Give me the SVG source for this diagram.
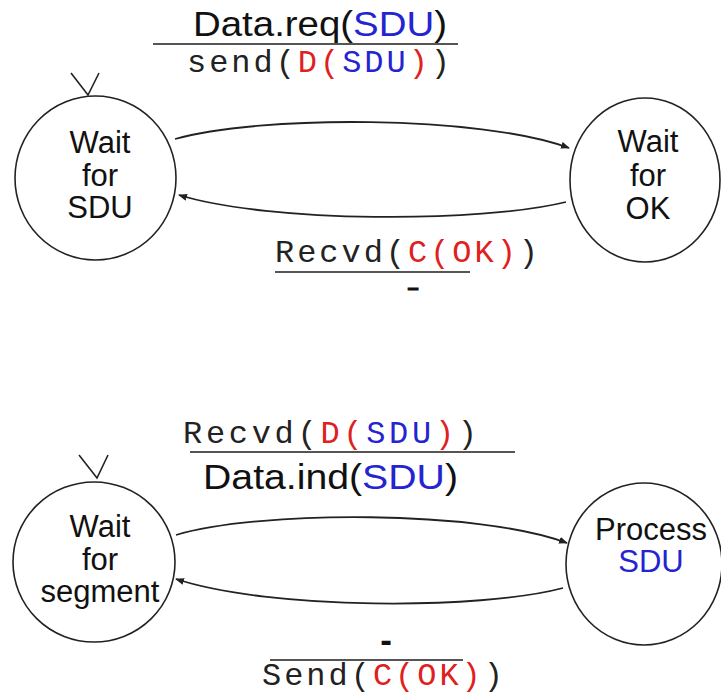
<svg xmlns="http://www.w3.org/2000/svg" width="721" height="695" viewBox="0 0 721 695">
<style>
.st{fill:none;stroke:#222;stroke-width:1.6}
.lbl{font-family:"Liberation Sans",Arial,Helvetica,sans-serif;font-size:31px;fill:#111;text-anchor:middle}
.ar{font-family:"Liberation Sans",Arial,Helvetica,sans-serif;font-size:35px;fill:#111}
.mono{font-family:"Liberation Mono","Courier New",monospace;font-size:32px;fill:#222}
.bar{stroke:#555;stroke-width:2}
.con{fill:none;stroke:#222;stroke-width:1.8}
.r{fill:#e02020}
.b{fill:#2424d0}
</style>
<defs>
<marker id="ah" markerUnits="userSpaceOnUse" markerWidth="9" markerHeight="7" refX="8" refY="3.5" orient="auto">
<path d="M0,0 L9,3.5 L0,7 z" fill="#222"/>
</marker>
</defs>
<rect width="721" height="695" fill="#fff"/>

<g id="label-top">
<text class="ar" x="193" y="36" textLength="254" lengthAdjust="spacingAndGlyphs">Data.req(<tspan class="b">SDU</tspan>)</text>
<line class="bar" x1="153" y1="44" x2="458" y2="44"/>
<text class="mono" x="187" y="72" textLength="263" lengthAdjust="spacing">send(<tspan class="r">D(</tspan><tspan class="b">SDU</tspan><tspan class="r">)</tspan>)</text>
</g>

<g id="init1"><path class="st" d="M71,73 L88,95 L99,73" stroke-width="2"/></g>

<g id="wait-for-sdu">
<ellipse class="st" cx="95.5" cy="178" rx="80.5" ry="82"/>
<text class="lbl" x="100" y="153">Wait</text>
<text class="lbl" x="100" y="186">for</text>
<text class="lbl" x="100" y="218">SDU</text>
</g>

<g id="wait-for-ok">
<ellipse class="st" cx="645" cy="180" rx="75" ry="82"/>
<text class="lbl" x="648" y="152">Wait</text>
<text class="lbl" x="648" y="186">for</text>
<text class="lbl" x="648" y="219">OK</text>
</g>

<g id="label-recvd-ok">
<text class="mono" x="275" y="262" textLength="263" lengthAdjust="spacing">Recvd(<tspan class="r">C(OK)</tspan>)</text>
<line class="bar" x1="275" y1="272" x2="470" y2="272"/>
<text x="413" y="294" text-anchor="middle" font-family="Liberation Sans, Arial, sans-serif" font-size="20" font-weight="bold" fill="#111" stroke="#111" stroke-width="1">–</text>
</g>

<g id="label-recvd-sdu">
<text class="mono" x="183" y="443" textLength="294" lengthAdjust="spacing">Recvd(<tspan class="r">D(</tspan><tspan class="b">SDU</tspan><tspan class="r">)</tspan>)</text>
<line class="bar" x1="190" y1="452" x2="515" y2="452"/>
<text class="ar" x="203" y="489" textLength="255" lengthAdjust="spacingAndGlyphs">Data.ind(<tspan class="b">SDU</tspan>)</text>
</g>

<g id="init2"><path class="st" d="M79,455 L97,478 L108,455" stroke-width="2"/></g>

<g id="wait-for-segment">
<ellipse class="st" cx="94" cy="562" rx="81" ry="80"/>
<text class="lbl" x="100" y="537">Wait</text>
<text class="lbl" x="100" y="570">for</text>
<text class="lbl" x="100" y="602">segment</text>
</g>

<g id="process-sdu">
<ellipse class="st" cx="644" cy="564" rx="78" ry="81"/>
<text class="lbl" x="651" y="540">Process</text>
<text class="lbl b" x="651" y="572">SDU</text>
</g>

<g id="label-send-ok">
<text class="ar" x="386" y="652" text-anchor="middle" font-weight="bold">-</text>
<line class="bar" x1="270" y1="660" x2="463" y2="660"/>
<text class="mono" x="262" y="685" font-size="30" textLength="241" lengthAdjust="spacing">Send(<tspan class="r">C(OK)</tspan>)</text>
</g>

<g id="connectors">
<path class="con" d="M175,139 C260,115 480,115 569,148" marker-end="url(#ah)"/>
<path class="con" d="M566,202 C480,223 270,223 179,195" marker-end="url(#ah)"/>
<path class="con" d="M176,535 C260,510 480,510 567,543" marker-end="url(#ah)"/>
<path class="con" d="M563,588 C480,610 270,610 176,579" marker-end="url(#ah)"/>
</g>
</svg>
